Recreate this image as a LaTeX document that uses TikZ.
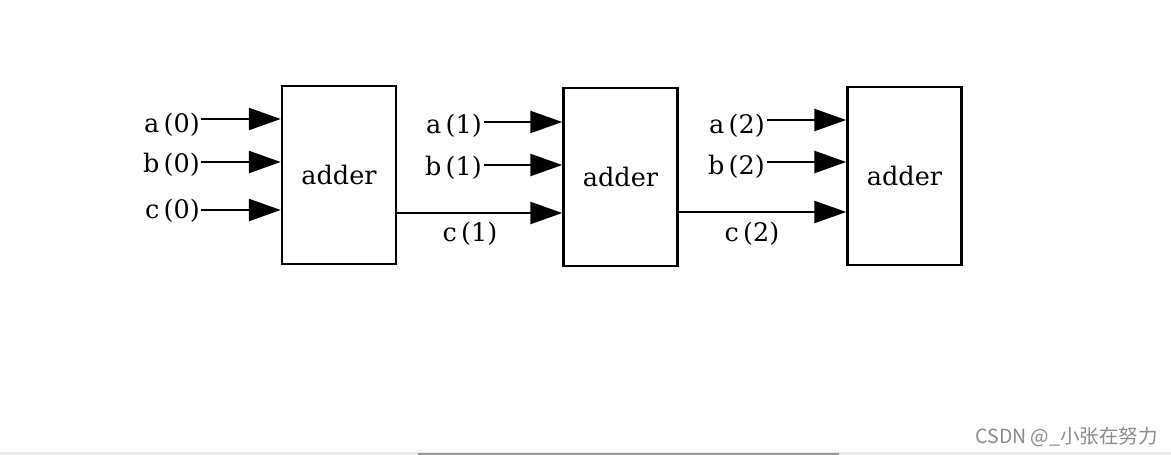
\documentclass[tikz,border=0pt]{standalone}
\usepackage{fontspec}
\setmainfont{DejaVu Serif}
\newfontfamily\cjk{Noto Sans CJK SC}
\usetikzlibrary{arrows.meta}
\tikzset{
  blk/.style={draw, line width=2.5pt, minimum width=114pt, minimum height=178pt, inner sep=0pt, font=\fontsize{25.5}{30}\selectfont},
  lbl/.style={inner sep=0pt, font=\fontsize{25.5}{30}\selectfont},
  arr/.style={line width=2.6pt, -{Triangle[length=32pt,width=22pt]}},
}
\begin{document}
\begin{tikzpicture}[x=1pt,y=-1pt]
\useasboundingbox (0,0) rectangle (1171,455);
% boxes
\node[blk] (b1) at (339,175) {adder};
\node[blk] (b2) at (620.5,177) {adder};
\node[blk] (b3) at (904.5,176) {adder};
% stage 0 inputs
\node[lbl, anchor=east] (a0) at (200,125) {a\,(0)};
\node[lbl, anchor=east] (bb0) at (200,165) {b\,(0)};
\node[lbl, anchor=east] (c0) at (200,211) {c\,(0)};
\coordinate (ia0) at (201,119);
\coordinate (ib0) at (201,162);
\coordinate (ic0) at (201,210);
\draw[arr] (ia0) -- (ia0 -| b1.west);
\draw[arr] (ib0) -- (ib0 -| b1.west);
\draw[arr] (ic0) -- (ic0 -| b1.west);
% stage 1 inputs
\node[lbl, anchor=east] (a1) at (482,126) {a\,(1)};
\node[lbl, anchor=east] (bb1) at (482,168) {b\,(1)};
\coordinate (ia1) at (484,122);
\coordinate (ib1) at (484,165);
\draw[arr] (ia1) -- (ia1 -| b2.west);
\draw[arr] (ib1) -- (ib1 -| b2.west);
\coordinate (o1) at (b1.east |- 0,213);
\draw[arr] (o1) -- (o1 -| b2.west);
\node[lbl] (c1) at (470,234) {c\,(1)};
% stage 2 inputs
\node[lbl, anchor=east] (a2) at (765,126) {a\,(2)};
\node[lbl, anchor=east] (bb2) at (765,167) {b\,(2)};
\coordinate (ia2) at (767,120);
\coordinate (ib2) at (767,162);
\draw[arr] (ia2) -- (ia2 -| b3.west);
\draw[arr] (ib2) -- (ib2 -| b3.west);
\coordinate (o2) at (b2.east |- 0,212);
\draw[arr] (o2) -- (o2 -| b3.west);
\node[lbl] (c2) at (752,234) {c\,(2)};
% watermark
\node[anchor=base east, inner sep=0pt, text=black!45, font=\cjk\fontsize{19.5}{22}\selectfont] (wm) at (1158,443) {CSDN @\_小张在努力};
% bottom bar
\fill[black!8] (0,452) rectangle (1171,455);
\fill[black!40] (418,453) rectangle (839,455);
\end{tikzpicture}
\end{document}
